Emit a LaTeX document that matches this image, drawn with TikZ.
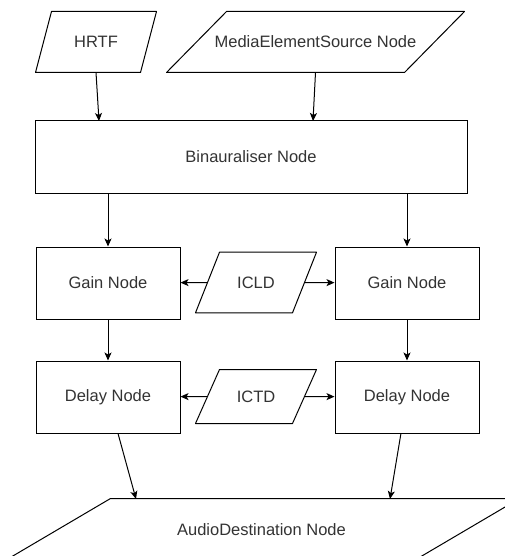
\documentclass[tikz,border=0pt]{standalone}
\usepackage{fontspec}
\setmainfont{Liberation Sans}
\usetikzlibrary{arrows.meta}
\definecolor{txtgray}{HTML}{333333}
\tikzset{
	block/.style={draw,line width=1pt,rectangle,inner sep=0pt,text=txtgray,
		font=\fontsize{16.5}{20}\selectfont},
	param/.style={block,draw=none},
	outline/.style={line width=1pt,line join=round},
	flow/.style={line width=1pt,-{Stealth[length=8pt,width=7pt,inset=2pt]}}
}
% parallelogram round a param node: #1 = node, #2 = horizontal slant
\newcommand{\drawparam}[2]{%
	\draw[outline]([xshift=#2]#1.north west)--(#1.north east)
		--([xshift=-#2]#1.south east)--(#1.south west)--cycle;}
\begin{document}
\begin{tikzpicture}[x=1pt,y=-1pt]
		\useasboundingbox(0,0)rectangle(505,556);
		\clip(0,0)rectangle(505,556);
		% inputs
		\node[param,minimum width=120pt,minimum height=60pt](hrtf)at(96,42){HRTF};
		\drawparam{hrtf}{16pt}
		\node[param,minimum width=297pt,minimum height=60pt](mes)at(315.5,42){MediaElementSource Node};
		\drawparam{mes}{60pt}
		\node[block,minimum width=432pt,minimum height=72pt](bin)at(251,157){Binauraliser Node};
		\coordinate(binl)at(99,121);
		\coordinate(binr)at(313,121);
		\draw[flow](hrtf.south)--(binl);
		\draw[flow](mes.south)--(binr);
		% left and right channels
		\node[block,minimum width=144pt,minimum height=72pt](gainl)at(108,283){Gain Node};
		\node[block,minimum width=144pt,minimum height=72pt](gainr)at(407,283){Gain Node};
		\node[param,minimum width=120pt,minimum height=59.6pt](icld)at(256,282.5){ICLD};
		\drawparam{icld}{24pt}
		\node[block,minimum width=144pt,minimum height=72pt](delayl)at(108,397){Delay Node};
		\node[block,minimum width=144pt,minimum height=72pt](delayr)at(407,397){Delay Node};
		\node[param,minimum width=120pt,minimum height=53pt](ictd)at(256,396.5){ICTD};
		\drawparam{ictd}{24pt}
		\draw[flow](bin.south-|gainl)--(gainl);
		\draw[flow](bin.south-|gainr)--(gainr);
		\draw[flow]([xshift=12pt]icld.west)--(gainl);
		\draw[flow]([xshift=-12pt]icld.east)--(gainr);
		\draw[flow](gainl)--(delayl);
		\draw[flow](gainr)--(delayr);
		\draw[flow]([xshift=12pt]ictd.west)--(delayl);
		\draw[flow]([xshift=-12pt]ictd.east)--(delayr);
		% output
		\node[param,minimum width=515pt,minimum height=62pt](dest)at(261.5,530){AudioDestination Node};
		\drawparam{dest}{107pt}
		\coordinate(destl)at(136,499);
		\coordinate(destr)at(390,499);
		\draw[flow](delayl)--(destl);
		\draw[flow](delayr)--(destr);
	\end{tikzpicture}
\end{document}
